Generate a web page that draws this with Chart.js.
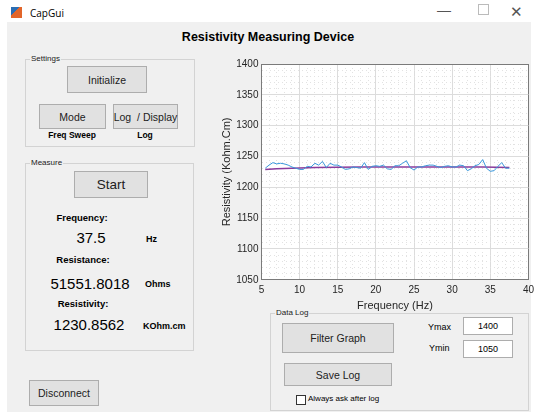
<!DOCTYPE html>
<html>
<head>
<meta charset="utf-8">
<title>CapGui</title>
<script src="https://cdn.jsdelivr.net/npm/chart.js@4.4.1/dist/chart.umd.min.js"></script>
<style>
  body { margin:0; width:538px; height:412px; background:#fff; font-family:"Liberation Sans", Arial, sans-serif; position:relative; overflow:hidden; color:#000; }
  .abs { position:absolute; }
  .win { left:7px; top:22px; width:524px; height:390px; background:#f0f0f0; }
  .titlebar { left:30px; top:6px; font-size:10px; font-family:"Open Sans", sans-serif; }
  .icon { left:11px; top:7px; width:11px; height:11px; background:linear-gradient(135deg,#2b6db3 0 40%,#e2652a 40% 100%); }
  .ctl { font-size:14px; color:#555; }
  .panel { border:1px solid #d3d3d3; }
  .ptitle { font-size:8px; background:#f0f0f0; padding:0 1px; top:-6px; left:4px; color:#222; }
  .btn { background:#e1e1e1; border:1px solid #adadad; box-sizing:border-box; display:flex; align-items:center; justify-content:center; font-size:10.5px; color:#222; white-space:nowrap; }
  .lbl { font-size:9.5px; font-weight:bold; transform:translateX(-50%); white-space:nowrap; }
  .big { font-size:15px; transform:translateX(-50%); white-space:nowrap; }
  .unit { font-size:9px; font-weight:bold; white-space:nowrap; }
  .edit { background:#fff; border:1px solid #adadad; box-sizing:border-box; display:flex; align-items:center; justify-content:center; font-size:9px; }
  #chartBox { left:220px; top:55px; width:318px; height:258px; }
</style>
</head>
<body>
<div class="abs icon"></div>
<div class="abs titlebar">CapGui</div>
<div class="abs ctl" style="left:437px;top:2px;">&#8212;</div>
<div class="abs ctl" style="left:478px;top:4px;width:9px;height:9px;border:1px solid #bbb;"></div>
<div class="abs ctl" style="left:510px;top:3px;font-size:15px;">&#10005;</div>

<div class="abs win"></div>
<div class="abs" style="left:268px;top:30px;transform:translateX(-50%);font-size:12.5px;font-weight:bold;white-space:nowrap;">Resistivity Measuring Device</div>

<!-- Settings -->
<div class="abs panel" style="left:25px;top:59px;width:168px;height:86px;"><span class="abs ptitle">Settings</span></div>
<div class="abs btn" style="left:67px;top:66px;width:80px;height:27px;">Initialize</div>
<div class="abs btn" style="left:39px;top:104px;width:67px;height:25px;">Mode</div>
<div class="abs btn" style="left:113px;top:104px;width:65px;height:25px;">Log&nbsp; / Display</div>
<div class="abs lbl" style="left:72px;top:130px;font-size:8.5px;">Freq Sweep</div>
<div class="abs lbl" style="left:145px;top:130px;font-size:8.5px;">Log</div>

<!-- Measure -->
<div class="abs panel" style="left:25px;top:163px;width:167px;height:186px;"><span class="abs ptitle">Measure</span></div>
<div class="abs btn" style="left:74px;top:171px;width:74px;height:27px;font-size:13.5px;">Start</div>
<div class="abs lbl" style="left:82px;top:212px;">Frequency:</div>
<div class="abs big" style="left:91px;top:229px;">37.5</div>
<div class="abs unit" style="left:146px;top:234px;">Hz</div>
<div class="abs lbl" style="left:83px;top:254px;">Resistance:</div>
<div class="abs big" style="left:90px;top:275px;">51551.8018</div>
<div class="abs unit" style="left:145px;top:279px;">Ohms</div>
<div class="abs lbl" style="left:83px;top:298px;">Resistivity:</div>
<div class="abs big" style="left:89px;top:316px;">1230.8562</div>
<div class="abs unit" style="left:143px;top:321px;">KOhm.cm</div>

<div class="abs btn" style="left:29px;top:380px;width:70px;height:26px;">Disconnect</div>

<!-- Data Log -->
<div class="abs panel" style="left:270px;top:313px;width:257px;height:96px;"><span class="abs ptitle">Data Log</span></div>
<div class="abs btn" style="left:282px;top:323px;width:112px;height:30px;">Filter Graph</div>
<div class="abs btn" style="left:284px;top:363px;width:108px;height:23px;">Save Log</div>
<div class="abs" style="left:296px;top:395px;width:8px;height:8px;border:1px solid #333;background:#fff;"></div>
<div class="abs" style="left:308px;top:394px;font-size:8px;">Always ask after log</div>
<div class="abs" style="left:428px;top:322px;font-size:9px;">Ymax</div>
<div class="abs" style="left:429px;top:343px;font-size:9px;">Ymin</div>
<div class="abs edit" style="left:463px;top:317px;width:50px;height:18px;">1400</div>
<div class="abs edit" style="left:463px;top:340px;width:50px;height:18px;">1050</div>

<div class="abs" id="chartBox"><canvas id="chart"></canvas></div>

<script>
// sweep readings (Hz, KOhm.cm)
const freqs = [5.5, 6, 6.5, 7, 7.5, 8, 8.5, 9, 9.5, 10, 10.5, 11, 11.5, 12, 12.5, 13, 13.5, 14, 14.5, 15, 15.5, 16, 16.5, 17, 17.5, 18, 18.5, 19, 19.5, 20, 20.5, 21, 21.5, 22, 22.5, 23, 23.5, 24, 24.5, 25, 25.5, 26, 26.5, 27, 27.5, 28, 28.5, 29, 29.5, 30, 30.5, 31, 31.5, 32, 32.5, 33, 33.5, 34, 34.5, 35, 35.5, 36, 36.5, 37, 37.5];
const resistivity = [1231, 1236, 1240, 1238, 1239, 1238, 1236, 1233, 1231, 1229, 1229, 1234, 1233, 1239, 1236, 1242, 1232, 1239, 1236, 1236, 1233, 1229, 1230, 1233, 1232, 1231, 1240, 1229, 1234, 1235, 1234, 1236, 1230, 1229, 1235, 1235, 1239, 1243, 1232, 1228, 1233, 1233, 1235, 1236, 1236, 1234, 1232, 1234, 1235, 1233, 1233, 1236, 1235, 1227, 1230, 1235, 1237, 1245, 1231, 1226, 1227, 1234, 1240, 1231, 1231];

// filtered trace
const trendFreqs = [5.5, 7, 9, 12, 15, 18, 22, 25, 30, 34, 37.5];
const trendValues = [1229, 1230, 1231, 1232, 1232.5, 1233, 1233, 1233, 1233, 1233, 1232];

const xTickLabels = [5, 10, 15, 20, 25, 30, 35, 40];
const yTickLabels = [1050, 1100, 1150, 1200, 1250, 1300, 1350, 1400];

const axisColor = '#7a7a7a';
const textColor = '#262626';

const plotBackground = {
  id: 'plotBackground',
  beforeDraw(chart) {
    const { ctx, chartArea: a } = chart;
    ctx.save();
    ctx.fillStyle = '#ffffff';
    ctx.fillRect(a.left, a.top, a.width, a.height);
    ctx.restore();
  }
};

function gridFor(labels, maxVal) {
  return {
    color: c => {
      const v = c.tick ? c.tick.value : null;
      if (v === maxVal) return axisColor;
      return labels.includes(v) ? '#dcdcdc' : '#e2e2e2';
    },
    lineWidth: 1,
    drawTicks: false
  };
}

function borderFor(labels, maxVal) {
  return {
    color: axisColor,
    width: 1,
    dash: c => {
      const v = c.tick ? c.tick.value : null;
      if (v === maxVal || labels.includes(v)) return [];
      return [1, 3];
    }
  };
}

new Chart(document.getElementById('chart'), {
  type: 'line',
  data: {
    datasets: [
      {
        label: 'Resistivity',
        data: freqs.map((f, i) => ({ x: f, y: resistivity[i] })),
        borderColor: '#3a98dc',
        borderWidth: 1,
        pointRadius: 0,
        tension: 0
      },
      {
        label: 'Filtered',
        data: trendFreqs.map((f, i) => ({ x: f, y: trendValues[i] })),
        borderColor: '#8a3b9c',
        borderWidth: 1.5,
        pointRadius: 0,
        tension: 0
      }
    ]
  },
  options: {
    responsive: true,
    maintainAspectRatio: false,
    animation: false,
    layout: { padding: { top: 6, right: 4, left: 0, bottom: 0 } },
    plugins: { legend: { display: false }, tooltip: { enabled: false } },
    scales: {
      x: {
        type: 'linear',
        min: 5, max: 40,
        grid: gridFor(xTickLabels, 40),
        border: borderFor(xTickLabels, 40),
        ticks: {
          stepSize: 1, autoSkip: false, maxRotation: 0, padding: 4,
          color: textColor, font: { family: 'Liberation Sans', size: 10 },
          callback: v => xTickLabels.includes(v) ? String(v) : ''
        },
        title: { display: true, text: 'Frequency (Hz)', color: textColor, font: { family: 'Liberation Sans', size: 11 }, padding: { top: 0, bottom: 0 } }
      },
      y: {
        min: 1050, max: 1400,
        grid: gridFor(yTickLabels, 1400),
        border: borderFor(yTickLabels, 1400),
        ticks: {
          stepSize: 10, autoSkip: false, padding: 3,
          color: textColor, font: { family: 'Liberation Sans', size: 10 },
          callback: v => yTickLabels.includes(v) ? String(v) : ''
        },
        title: { display: true, text: 'Resistivity (Kohm.Cm)', color: textColor, font: { family: 'Liberation Sans', size: 11 }, padding: { top: 0, bottom: 0 } }
      }
    }
  },
  plugins: [plotBackground]
});
</script>
</body>
</html>
